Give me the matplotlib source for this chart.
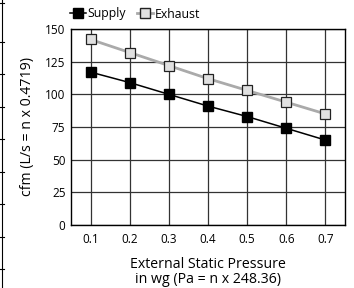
import matplotlib
matplotlib.use("Agg")
import matplotlib.pyplot as plt
from matplotlib.lines import Line2D

pressure = [0.1, 0.2, 0.3, 0.4, 0.5, 0.6, 0.7]
supply = [117, 109, 100, 91, 83, 74, 65]
exhaust = [142, 132, 122, 112, 103, 94, 85]
yticks = [0, 25, 50, 75, 100, 125, 150]

plt.rcParams['font.family'] = ['Open Sans', 'DejaVu Sans']

fig = plt.figure(figsize=(3.54, 2.88), dpi=100)
W, H = 354, 288
ax = fig.add_axes([71 / W, 1 - 225 / H, (345 - 71) / W, (225 - 29) / H])

ax.plot(pressure, exhaust, color='#aaaaaa', lw=2, marker='s', markersize=6.5,
        markerfacecolor='#e0e0e0', markeredgecolor='#222222', markeredgewidth=0.9,
        label='Exhaust', zorder=3)
ax.plot(pressure, supply, color='black', lw=1.1, marker='s', markersize=6.5,
        markerfacecolor='black', markeredgecolor='black', label='Supply', zorder=4)

ax.set_xlim(0.05, 0.75)
ax.set_ylim(0, 150)
ax.set_xticks(pressure)
ax.set_xticklabels([f"{p:.1f}" for p in pressure])
ax.set_yticks(yticks)
ax.grid(True, color='#333333', lw=0.9)
ax.set_axisbelow(True)
ax.tick_params(length=0, labelsize=8.5, pad=4)
ax.tick_params(axis='x', pad=6)
for s in ax.spines.values():
    s.set_color('black')
    s.set_linewidth(1.0)

ax.set_xlabel("External Static Pressure\nin wg (Pa = n x 248.36)", fontsize=10.2, labelpad=8,
              linespacing=1.0)
ax.set_ylabel("cfm (L/s = n x 0.4719)", fontsize=10.2, labelpad=7)

handles = [Line2D([], [], color='black', lw=1.1, marker='s', markersize=7,
                  markerfacecolor='black', markeredgecolor='black'),
           Line2D([], [], color='#aaaaaa', lw=2, marker='s', markersize=7,
                  markerfacecolor='#e0e0e0', markeredgecolor='#222222')]
fig.legend(handles, ['Supply', 'Exhaust'], loc='center left',
           bbox_to_anchor=(70 / W, 1 - 14 / H), ncol=2, frameon=False,
           fontsize=8.8, handlelength=1.3, handletextpad=0.15, columnspacing=0.9,
           borderpad=0, borderaxespad=0)

# table remnants at left edge
fig.add_artist(Line2D([1.5 / W, 1.5 / W], [0, 1], color='black', lw=0.8,
                      transform=fig.transFigure))
for yy in [3, 42, 74, 107, 139, 172, 204, 237, 269]:
    fig.add_artist(Line2D([0, 4 / W], [1 - yy / H, 1 - yy / H], color='black', lw=0.8,
                          transform=fig.transFigure))

fig.savefig("out.png", dpi=100)
